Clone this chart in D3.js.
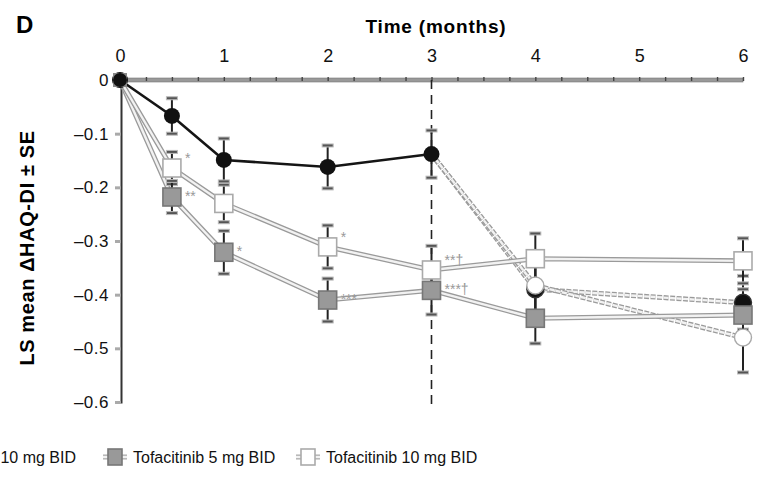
<!DOCTYPE html>
<html>
<head>
<meta charset="utf-8">
<script src="https://cdn.jsdelivr.net/npm/d3@7"></script>
<style>
  body { margin: 0; background: #fff; }
  svg { font-family: "Liberation Sans", Arial, sans-serif; }
</style>
</head>
<body>
<svg id="chart" width="757" height="480"></svg>
<script>
// months at which LS mean change was measured
const months = [0, 0.5, 1, 2, 3, 4, 6];
const xTicks = [0, 1, 2, 3, 4, 5, 6];
const yTicks = [0, -0.1, -0.2, -0.3, -0.4, -0.5, -0.6];

// placebo (until month 3)
const placeboMonths = [0, 0.5, 1, 2, 3];
const placeboMean = [0, -0.067, -0.149, -0.162, -0.138];
const placeboSE = [0, 0.033, 0.04, 0.04, 0.044];

// tofacitinib 5 mg BID
const tofa5Mean = [0, -0.218, -0.321, -0.41, -0.392, -0.444, -0.438];
const tofa5SE = [0, 0.03, 0.04, 0.04, 0.045, 0.047, 0.048];

// tofacitinib 10 mg BID
const tofa10Mean = [0, -0.164, -0.23, -0.311, -0.354, -0.333, -0.337];
const tofa10SE = [0, 0.03, 0.035, 0.04, 0.045, 0.047, 0.042];

// placebo advanced to tofacitinib after month 3
const advMonths = [3, 4, 6];
const plc5Mean = [-0.138, -0.39, -0.415];
const plc5SE = [0, 0.05, 0.05];
const plc10Mean = [-0.138, -0.383, -0.48];
const plc10SE = [0, 0.05, 0.065];

// significance marks next to points
const marks = [
  {series: 'tofa10', month: 0.5, text: '*'},
  {series: 'tofa5', month: 0.5, text: '**'},
  {series: 'tofa5', month: 1, text: '*'},
  {series: 'tofa10', month: 2, text: '*'},
  {series: 'tofa5', month: 2, text: '***'},
  {series: 'tofa10', month: 3, text: '**†'},
  {series: 'tofa5', month: 3, text: '***†'},
];

const svg = d3.select('#chart');

const x = d3.scaleLinear().domain([0, 6]).range([120, 743]);
const y = d3.scaleLinear().domain([-0.6, 0]).range([402, 80]);

const toPoints = (ms, means, ses) => ms.map((m, i) => ({m, v: means[i], se: ses[i]}));

const series = {
  placebo: toPoints(placeboMonths, placeboMean, placeboSE),
  tofa5: toPoints(months, tofa5Mean, tofa5SE),
  tofa10: toPoints(months, tofa10Mean, tofa10SE),
  plc5: toPoints(advMonths, plc5Mean, plc5SE),
  plc10: toPoints(advMonths, plc10Mean, plc10SE),
};

const line = d3.line().x(d => x(d.m)).y(d => y(d.v));

// panel letter and axis titles
svg.append('text').attr('x', 16).attr('y', 33)
  .attr('font-size', 24).attr('font-weight', 'bold').text('D');

svg.append('text').attr('x', 436).attr('y', 33)
  .attr('text-anchor', 'middle').attr('font-size', 19).attr('font-weight', 'bold')
  .attr('letter-spacing', 0.8)
  .text('Time (months)');

svg.append('text')
  .attr('transform', 'translate(34, 248) rotate(-90)')
  .attr('text-anchor', 'middle').attr('font-size', 20).attr('font-weight', 'bold')
  .attr('letter-spacing', 0.6)
  .text('LS mean ΔHAQ-DI ± SE');

// x axis (top) - gray band with minor ticks
svg.append('rect').attr('x', x(0)).attr('y', 78).attr('width', x(6) - x(0)).attr('height', 4)
  .attr('fill', '#999').attr('stroke', '#777').attr('stroke-width', 0.6);

const xAxisMinor = d3.axisTop(x)
  .tickValues(d3.range(0, 6.01, 0.25))
  .tickSize(4)
  .tickFormat('');
svg.append('g').attr('transform', 'translate(0,81)').call(xAxisMinor)
  .call(g => g.select('.domain').remove())
  .call(g => g.selectAll('line').attr('stroke', '#444').attr('stroke-width', 1.4));

const xAxis = d3.axisTop(x).tickValues(xTicks).tickSize(0).tickPadding(18)
  .tickFormat(d3.format('d'));
svg.append('g').attr('transform', 'translate(0,80)').call(xAxis)
  .call(g => g.select('.domain').remove())
  .call(g => g.selectAll('text').attr('font-size', 18).attr('fill', '#111')
    .attr('font-family', '"Liberation Sans", Arial, sans-serif'));

// y axis
const fmtY = d => d === 0 ? '0' : '–' + Math.abs(d).toFixed(1);
const yAxis = d3.axisLeft(y).tickValues(yTicks).tickSize(6).tickPadding(6).tickFormat(fmtY);
svg.append('g').attr('transform', 'translate(121,0)').call(yAxis)
  .call(g => g.select('.domain').attr('stroke', '#333').attr('stroke-width', 2))
  .call(g => g.selectAll('.tick line').attr('stroke', '#aaa').attr('stroke-width', 3))
  .call(g => g.selectAll('text').attr('font-size', 17).attr('fill', '#111')
    .attr('letter-spacing', 0.5)
    .attr('font-family', '"Liberation Sans", Arial, sans-serif'));

// vertical dashed line at month 3
svg.append('line')
  .attr('x1', x(3)).attr('x2', x(3)).attr('y1', y(0)).attr('y2', 404)
  .attr('stroke', '#222').attr('stroke-width', 1.6).attr('stroke-dasharray', '9,6');

// outlined "double" lines for tofacitinib arms
const drawDouble = (data, dashed) => {
  const g = svg.append('g');
  g.append('path').datum(data).attr('d', line).attr('fill', 'none')
    .attr('stroke', '#9a9a9a').attr('stroke-width', 5)
    .attr('stroke-dasharray', dashed ? '5,1.5' : null);
  g.append('path').datum(data).attr('d', line).attr('fill', 'none')
    .attr('stroke', '#f2f2f2').attr('stroke-width', 2.4)
    .attr('stroke-dasharray', dashed ? '5,1.5' : null);
};

drawDouble(series.plc5, true);
drawDouble(series.plc10, true);
drawDouble(series.tofa5, false);
drawDouble(series.tofa10, false);

svg.append('path').datum(series.placebo).attr('d', line).attr('fill', 'none')
  .attr('stroke', '#151515').attr('stroke-width', 2.6);

// error bars
const drawErrors = (data) => {
  const g = svg.append('g');
  data.filter(d => d.se > 0).forEach(d => {
    const cx = x(d.m);
    g.append('line').attr('x1', cx).attr('x2', cx)
      .attr('y1', y(d.v + d.se)).attr('y2', y(d.v - d.se))
      .attr('stroke', '#222').attr('stroke-width', 2);
    [d.v + d.se, d.v - d.se].forEach(v => {
      g.append('rect').attr('x', cx - 5.5).attr('y', y(v) - 1.5)
        .attr('width', 11).attr('height', 3)
        .attr('fill', '#555').attr('stroke', '#bbb').attr('stroke-width', 1);
    });
  });
};

['plc10', 'plc5', 'tofa10', 'tofa5', 'placebo'].forEach(k => drawErrors(series[k]));

// markers
const drawSquares = (data, fill, stroke) => {
  svg.append('g').selectAll('rect').data(data.filter(d => d.m > 0)).join('rect')
    .attr('x', d => x(d.m) - 9).attr('y', d => y(d.v) - 9)
    .attr('width', 18).attr('height', 18)
    .attr('fill', fill).attr('stroke', stroke).attr('stroke-width', 1.6);
};
const drawCircles = (data, fill, stroke) => {
  svg.append('g').selectAll('circle').data(data.filter(d => d.m > 3)).join('circle')
    .attr('cx', d => x(d.m)).attr('cy', d => y(d.v)).attr('r', 8.5)
    .attr('fill', fill).attr('stroke', stroke).attr('stroke-width', 1.4);
};

drawCircles(series.plc5, '#111', '#333');
drawSquares(series.tofa5, '#999', '#777');
drawCircles(series.plc10, '#fff', '#aaa');
drawSquares(series.tofa10, '#fff', '#aaa');

svg.append('g').selectAll('circle').data(series.placebo).join('circle')
  .attr('cx', d => x(d.m)).attr('cy', d => y(d.v)).attr('r', 8)
  .attr('fill', '#111');

// origin marker
svg.append('rect').attr('x', x(0) - 7).attr('y', y(0) - 7).attr('width', 14).attr('height', 14)
  .attr('fill', '#888');
svg.append('circle').attr('cx', x(0)).attr('cy', y(0)).attr('r', 7).attr('fill', '#111');

// significance marks
svg.append('g').selectAll('text').data(marks).join('text')
  .attr('x', d => x(d.month) + 13)
  .attr('y', d => y(series[d.series].find(p => p.m === d.month).v) + (d.series === 'tofa5' ? 4 : -5))
  .attr('font-size', 14).attr('fill', '#999')
  .text(d => d.text);

// legend (the first entry is cropped in the figure; only its tail is visible)
const legendY = 457;
const legend = svg.append('g');
legend.append('text').attr('x', 76).attr('y', legendY + 6)
  .attr('text-anchor', 'end').attr('font-size', 16).attr('fill', '#111')
  .text('10 mg BID');

const legendItems = [
  {label: 'Tofacitinib 5 mg BID', fill: '#999', stroke: '#777', x: 115},
  {label: 'Tofacitinib 10 mg BID', fill: '#fff', stroke: '#aaa', x: 308},
];
legendItems.forEach(it => {
  const g = legend.append('g');
  g.append('line').attr('x1', it.x - 12).attr('x2', it.x + 12)
    .attr('y1', legendY).attr('y2', legendY)
    .attr('stroke', '#aaa').attr('stroke-width', 5);
  g.append('line').attr('x1', it.x - 12).attr('x2', it.x + 12)
    .attr('y1', legendY).attr('y2', legendY)
    .attr('stroke', '#f2f2f2').attr('stroke-width', 2.4);
  g.append('rect').attr('x', it.x - 7).attr('y', legendY - 8).attr('width', 14).attr('height', 16)
    .attr('fill', it.fill).attr('stroke', it.stroke).attr('stroke-width', 1.6);
  g.append('text').attr('x', it.x + 18).attr('y', legendY + 6)
    .attr('font-size', 16).attr('fill', '#111').text(it.label);
});
</script>
</body>
</html>
